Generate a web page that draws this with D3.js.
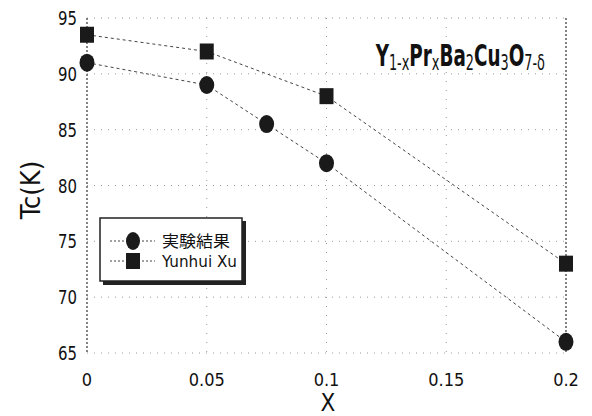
<!DOCTYPE html>
<html>
<head>
<meta charset="utf-8">
<script src="https://cdn.jsdelivr.net/npm/d3@7"></script>
<style>
  body { margin: 0; background: #fff; }
  text { font-family: "Liberation Sans Narrow", "DejaVu Sans Condensed", "Liberation Sans", sans-serif; fill: #111; }
</style>
</head>
<body>
<script>
// data
const xExp = [0, 0.05, 0.075, 0.1, 0.2];
const tcExp = [91, 89, 85.5, 82, 66];
const xXu = [0, 0.05, 0.1, 0.2];
const tcXu = [93.5, 92, 88, 73];
const xTicks = [0, 0.05, 0.1, 0.15, 0.2];
const xTickLabels = ["0", "0.05", "0.1", "0.15", "0.2"];
const yTicks = [65, 70, 75, 80, 85, 90, 95];
const legendNames = ["実験結果", "Yunhui Xu"];

const W = 592, H = 416;
const margin = {left: 87, right: 26, top: 18, bottom: 63};

const svg = d3.select("body").append("svg")
    .attr("width", W)
    .attr("height", H);

var x = d3.scaleLinear().domain([0, 0.2]).range([margin.left, W - margin.right]);
var y = d3.scaleLinear().domain([65, 95]).range([H - margin.bottom, margin.top]);

// dotted grid
svg.append("g").selectAll("line")
    .data(yTicks)
    .enter().append("line")
    .attr("x1", x(0)).attr("x2", x(0.2))
    .attr("y1", d => y(d)).attr("y2", d => y(d))
    .attr("stroke", "#999").attr("stroke-width", 1)
    .attr("stroke-dasharray", "1,6");
svg.append("g").selectAll("line")
    .data(xTicks.slice(1, -1))
    .enter().append("line")
    .attr("x1", d => x(d)).attr("x2", d => x(d))
    .attr("y1", y(95)).attr("y2", y(65))
    .attr("stroke", "#999").attr("stroke-width", 1)
    .attr("stroke-dasharray", "1,8");

// left and right frame lines (dashed in the scan)
[0, 0.2].forEach(v => {
    svg.append("line")
        .attr("x1", x(v)).attr("x2", x(v))
        .attr("y1", y(95)).attr("y2", y(65))
        .attr("stroke", "#333").attr("stroke-width", 1.2)
        .attr("stroke-dasharray", "2,2");
});

// tick labels
svg.append("g").selectAll("text")
    .data(yTicks)
    .enter().append("text")
    .attr("x", 77)
    .attr("y", d => y(d) + 7)
    .attr("text-anchor", "end")
    .attr("font-size", 20)
    .attr("textLength", 19)
    .attr("lengthAdjust", "spacingAndGlyphs")
    .text(d => d);

svg.append("g").selectAll("text")
    .data(xTicks)
    .enter().append("text")
    .attr("x", d => x(d))
    .attr("y", 386)
    .attr("text-anchor", "middle")
    .attr("font-size", 18)
    .text((d, i) => xTickLabels[i]);

// axis titles
svg.append("text")
    .attr("x", 328).attr("y", 411)
    .attr("text-anchor", "middle")
    .attr("font-size", 24)
    .text("X");

svg.append("text")
    .attr("transform", "translate(40,190) rotate(-90)")
    .attr("text-anchor", "middle")
    .attr("font-size", 27)
    .text("Tc(K)");

// series lines
const line = d3.line().x(d => x(d[0])).y(d => y(d[1]));
const expData = xExp.map((d, i) => [d, tcExp[i]]);
const xuData = xXu.map((d, i) => [d, tcXu[i]]);

[expData, xuData].forEach(s => {
    svg.append("path")
        .datum(s)
        .attr("d", line)
        .attr("fill", "none")
        .attr("stroke", "#444")
        .attr("stroke-width", 1)
        .attr("stroke-dasharray", "3,3");
});

// markers
svg.append("g").selectAll("ellipse")
    .data(expData)
    .enter().append("ellipse")
    .attr("cx", d => x(d[0]))
    .attr("cy", d => y(d[1]))
    .attr("rx", 7.5).attr("ry", 9)
    .attr("fill", "#1a1a1a");

svg.append("g").selectAll("rect")
    .data(xuData)
    .enter().append("rect")
    .attr("x", d => x(d[0]) - 7)
    .attr("y", d => y(d[1]) - 8)
    .attr("width", 14).attr("height", 16)
    .attr("fill", "#1a1a1a");

// compound label, squeezed to the span it has in the scan (x 375..545)
const title = svg.append("g");
const tt = title.append("text").attr("font-size", 30).attr("font-weight", "bold");
const parts = [["Y", 0], ["1-x", 1], ["Pr", 0], ["x", 1], ["Ba", 0], ["2", 1], ["Cu", 0], ["3", 1], ["O", 0], ["7-δ", 1]];
parts.forEach(p => {
    tt.append("tspan")
        .attr("font-size", p[1] ? 21 : 30)
        .attr("font-weight", p[1] ? "normal" : "bold")
        .attr("baseline-shift", p[1] ? "-3" : "0")
        .text(p[0]);
});
const tb = tt.node().getBBox();
const sx = 170 / tb.width;
title.attr("transform", `translate(${375 - tb.x * sx},66) scale(${sx},1)`);
const r = title.node().getBoundingClientRect();
if (Math.abs(r.left - 375) > 1 || Math.abs(r.width - 170) > 2) {
    const s2 = sx * 170 / r.width;
    title.attr("transform", `translate(375,66) scale(${s2},1)`);
    const r2 = title.node().getBoundingClientRect();
    title.attr("transform", `translate(${375 - (r2.left - 375)},66) scale(${s2},1)`);
}

// legend
const lg = svg.append("g");
lg.append("rect")
    .attr("x", 103).attr("y", 221)
    .attr("width", 143).attr("height", 64)
    .attr("fill", "#222");
lg.append("rect")
    .attr("x", 100).attr("y", 218)
    .attr("width", 142).attr("height", 63)
    .attr("fill", "#fff")
    .attr("stroke", "#222").attr("stroke-width", 1.5);

legendNames.forEach((name, i) => {
    const ly = 241 + i * 20;
    lg.append("line")
        .attr("x1", 110).attr("x2", 155)
        .attr("y1", ly).attr("y2", ly)
        .attr("stroke", "#444").attr("stroke-width", 1)
        .attr("stroke-dasharray", "2,2");
    if (i === 0) {
        lg.append("ellipse")
            .attr("cx", 133).attr("cy", ly)
            .attr("rx", 7).attr("ry", 9)
            .attr("fill", "#1a1a1a");
    } else {
        lg.append("rect")
            .attr("x", 126).attr("y", ly - 8)
            .attr("width", 14).attr("height", 16)
            .attr("fill", "#1a1a1a");
    }
    lg.append("text")
        .attr("x", 162).attr("y", ly + 6)
        .attr("font-size", 16)
        .attr("textLength", i === 0 ? 68 : 75)
        .attr("lengthAdjust", "spacingAndGlyphs")
        .style("font-family", i === 0 ? "'Noto Sans CJK JP', sans-serif" : null)
        .text(name);
});
</script>
</body>
</html>
